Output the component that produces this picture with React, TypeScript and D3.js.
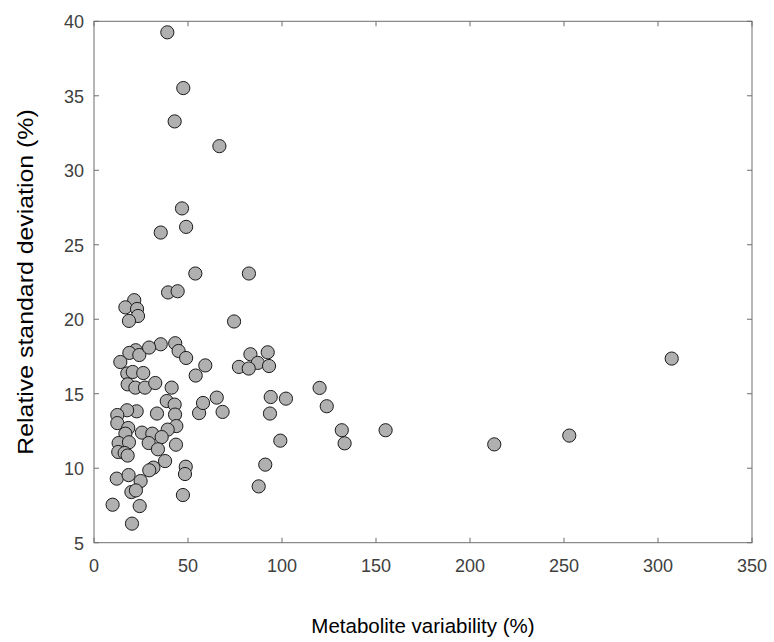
import React from "react";
import * as d3 from "d3";

const xValues: number[] = [
  39.0, 47.5, 42.9, 66.7, 46.8, 49.0, 35.5, 53.9, 82.4, 39.4,
  44.5, 21.4, 16.7, 22.9, 23.4, 18.6, 74.5, 35.5, 43.2, 22.2,
  18.8, 24.1, 29.3, 45.0, 49.0, 14.0, 59.2, 54.1, 77.1, 83.2,
  87.1, 82.3, 92.4, 93.1, 17.7, 20.6, 26.2, 17.9, 22.0, 27.1,
  32.6, 41.3, 38.7, 42.9, 43.1, 43.8, 39.2, 43.6, 33.5, 22.7,
  17.6, 12.4, 12.4, 18.2, 16.7, 25.5, 31.0, 36.0, 13.1, 18.6,
  29.1, 12.9, 16.3, 17.9, 34.0, 37.8, 31.6, 29.4, 48.8, 48.4,
  12.1, 18.4, 24.8, 19.9, 22.3, 47.3, 9.9, 24.3, 20.2, 55.9,
  58.0, 65.3, 68.4, 94.0, 102.1, 93.6, 99.1, 91.1, 87.6, 120.0,
  123.8, 131.8, 133.3, 155.1, 212.9, 252.8, 307.3,
];
const yValues: number[] = [
  39.26, 35.52, 33.28, 31.62, 27.44, 26.2, 25.82, 23.07, 23.07, 21.8,
  21.88, 21.28, 20.8, 20.69, 20.22, 19.89, 19.85, 18.32, 18.39, 17.92,
  17.74, 17.6, 18.1, 17.87, 17.4, 17.13, 16.9, 16.22, 16.8, 17.65,
  17.07, 16.69, 17.78, 16.86, 16.36, 16.46, 16.39, 15.63, 15.41, 15.41,
  15.72, 15.41, 14.51, 14.27, 13.6, 12.83, 12.59, 11.58, 13.67, 13.82,
  13.89, 13.57, 13.03, 12.7, 12.32, 12.39, 12.32, 12.09, 11.69, 11.74,
  11.69, 11.09, 11.02, 10.85, 11.27, 10.48, 10.04, 9.86, 10.1, 9.61,
  9.3, 9.54, 9.14, 8.4, 8.51, 8.2, 7.55, 7.46, 6.28, 13.7,
  14.38, 14.74, 13.78, 14.78, 14.67, 13.67, 11.85, 10.24, 8.78, 15.39,
  14.16, 12.55, 11.67, 12.55, 11.6, 12.19, 17.36,
];
const xTicks: number[] = [0, 50, 100, 150, 200, 250, 300, 350];
const yTicks: number[] = [5, 10, 15, 20, 25, 30, 35, 40];
const xLabel = "Metabolite variability (%)";
const yLabel = "Relative standard deviation (%)";

const W = 774;
const H = 642;
const L = 94;
const R = 752;
const T = 21.3;
const B = 542.7;

export default function App() {
  const x = d3.scaleLinear().domain([0, 350]).range([L, R]);
  const y = d3.scaleLinear().domain([5, 40]).range([B, T]);
  const axisColor = "#6e6e6e";
  const textColor = "#404040";
  const font = "'Liberation Sans', Arial, Helvetica, sans-serif";
  const tl = 5;
  const points = xValues.map((v, i) => ({ x: v, y: yValues[i] }));

  return (
    <svg
      width={W}
      height={H}
      style={{ position: "absolute", left: 0, top: 0, background: "#fff" }}
      fontFamily={font}
    >
      <rect x={0} y={0} width={W} height={H} fill="#fff" />
      {points.map((p, i) => (
        <circle
          key={i}
          cx={x(p.x)}
          cy={y(p.y)}
          r={6.6}
          fill="#b0b0b0"
          stroke="#1a1a1a"
          strokeWidth={1}
        />
      ))}
      <rect
        x={L}
        y={T}
        width={R - L}
        height={B - T}
        fill="none"
        stroke={axisColor}
        strokeWidth={1}
      />
      {xTicks.map((t) => (
        <g key={"x" + t}>
          <line x1={x(t)} x2={x(t)} y1={B} y2={B - tl} stroke={axisColor} />
          <line x1={x(t)} x2={x(t)} y1={T} y2={T + tl} stroke={axisColor} />
          <text
            x={x(t)}
            y={572}
            textAnchor="middle"
            fontSize={18}
            fill={textColor}
          >
            {t}
          </text>
        </g>
      ))}
      {yTicks.map((t) => (
        <g key={"y" + t}>
          <line x1={L} x2={L + tl} y1={y(t)} y2={y(t)} stroke={axisColor} />
          <line x1={R} x2={R - tl} y1={y(t)} y2={y(t)} stroke={axisColor} />
          <text
            x={84}
            y={y(t) + 7}
            textAnchor="end"
            fontSize={18}
            fill={textColor}
          >
            {t}
          </text>
        </g>
      ))}
      <text
        x={(L + R) / 2}
        y={633}
        textAnchor="middle"
        fontSize={20.5}
        fill="#000"
      >
        {xLabel}
      </text>
      <text
        transform={`translate(33, ${(T + B) / 2}) rotate(-90) scale(1.13, 1)`}
        textAnchor="middle"
        fontSize={22}
        fill="#000"
      >
        {yLabel}
      </text>
    </svg>
  );
}
